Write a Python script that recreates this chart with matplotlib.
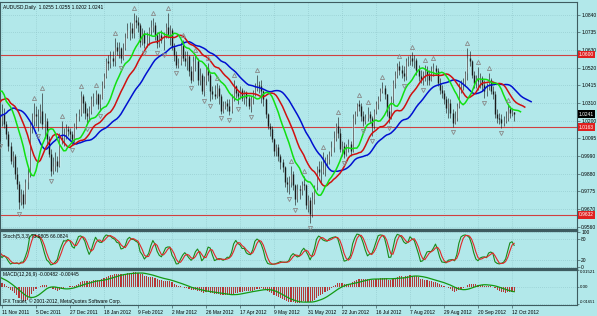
import numpy as np
import pandas as pd
import matplotlib
matplotlib.use("Agg")
import matplotlib.pyplot as plt
import matplotlib.transforms as mtransforms

# ---------------- data (prices in 1e-4 units) ----------------
# warm-up bars 1 Sep 2011 - 10 Nov 2011 (left of the visible window)
pre_open = 10740
pre_close = [10690, 10640, 10560, 10520, 10610, 10560, 10370, 10250, 10290, 10270,
             10340, 10300, 10200, 10220, 10040, 9780, 9750, 9830, 9930, 9760,
             9850, 9740,
             9560, 9700, 9720, 9800, 9790, 9920, 9890, 10060, 10090, 10200,
             10100, 10160, 10110, 10070, 10230, 10380, 10400, 10450, 10690, 10680,
             10520, 10250, 10340, 10440, 10400, 10350, 10420, 10150, 10200]
pre_high = [10760, 10720, 10640, 10600, 10640, 10640, 10580, 10380, 10330, 10320,
            10370, 10380, 10310, 10280, 10240, 10060, 9880, 9900, 9990, 9960,
            9890, 9860,
            9800, 9720, 9780, 9850, 9880, 9950, 9960, 10080, 10140, 10240,
            10270, 10190, 10200, 10140, 10260, 10400, 10440, 10490, 10710, 10760,
            10700, 10530, 10360, 10470, 10480, 10410, 10450, 10430, 10240]
pre_low = [10640, 10600, 10520, 10460, 10500, 10530, 10350, 10200, 10210, 10200,
           10250, 10280, 10180, 10160, 10020, 9760, 9690, 9700, 9810, 9730,
           9720, 9700,
           9500, 9390, 9620, 9700, 9730, 9790, 9850, 9880, 10000, 10060,
           10080, 10000, 10070, 9980, 10050, 10220, 10330, 10330, 10440, 10640,
           10500, 10230, 10200, 10230, 10370, 10300, 10310, 10120, 10080]

# visible bars 11 Nov 2011 - 15 Oct 2012
close = [10240, 10180, 10120, 10050, 9960, 9990, 9880, 9820, 9710, 9760,
         9700, 9830, 9880, 10180, 10200, 10240, 10230, 10230, 10260, 10180,
         10200, 10090, 10000, 9900, 9930, 9960, 9930, 10100, 10090, 10120,
         10150, 10140, 10120, 10090, 10170, 10230, 10240, 10350, 10310, 10250,
         10230, 10260, 10330, 10340, 10360, 10300, 10340, 10420, 10470, 10560,
         10550, 10580, 10560, 10650, 10620, 10640, 10580, 10640, 10710, 10750,
         10760, 10730, 10810, 10800, 10780, 10680, 10730, 10670, 10710, 10750,
         10770, 10780, 10720, 10670, 10720, 10690, 10720, 10770, 10720, 10750,
         10650, 10600, 10540, 10550, 10660, 10580, 10560, 10590, 10500, 10450,
         10560, 10560, 10450, 10480, 10380, 10440, 10520, 10480, 10380, 10360,
         10350, 10400, 10350, 10260, 10290, 10310, 10290, 10260, 10340, 10410,
         10370, 10350, 10390, 10340, 10370, 10340, 10290, 10330, 10370, 10400,
         10420, 10410, 10380, 10330, 10240, 10170, 10150, 10090, 10020, 10040,
         9990, 9950, 9920, 9830, 9820, 9830, 9880, 9810, 9730, 9790,
         9780, 9820, 9810, 9690, 9720, 9640, 9730, 9800, 9910, 9890,
         9890, 9920, 9950, 9970, 10000, 10040, 10100, 10170, 10130, 10030,
         10050, 10000, 10030, 10060, 10020, 10220, 10240, 10300, 10290, 10230,
         10200, 10220, 10240, 10220, 10170, 10260, 10300, 10330, 10380, 10400,
         10360, 10260, 10220, 10330, 10430, 10480, 10530, 10510, 10490, 10470,
         10560, 10570, 10580, 10560, 10570, 10510, 10470, 10450, 10470, 10510,
         10480, 10450, 10490, 10520, 10500, 10430, 10390, 10370, 10330, 10280,
         10310, 10250, 10190, 10220, 10290, 10410, 10420, 10430, 10490, 10580,
         10560, 10480, 10430, 10450, 10440, 10460, 10420, 10380, 10400, 10450,
         10380, 10360, 10240, 10220, 10210, 10190, 10200, 10220, 10270, 10250,
         10255, 10241]
high = [10300, 10280, 10200, 10140, 10070, 10020, 10000, 9920, 9840, 9790,
        9780, 9850, 9920, 10200, 10250, 10310, 10290, 10270, 10300, 10370,
        10250, 10220, 10110, 10030, 9980, 10010, 9990, 10130, 10200, 10160,
        10180, 10170, 10160, 10140, 10190, 10250, 10270, 10380, 10360, 10320,
        10280, 10290, 10350, 10370, 10385, 10370, 10360, 10440, 10490, 10580,
        10600, 10620, 10620, 10700, 10680, 10680, 10650, 10670, 10730, 10790,
        10800, 10790, 10850, 10840, 10830, 10790, 10760, 10750, 10740, 10770,
        10810, 10820, 10800, 10740, 10740, 10750, 10740, 10790, 10855, 10780,
        10760, 10670, 10620, 10580, 10680, 10690, 10620, 10620, 10600, 10530,
        10590, 10600, 10580, 10520, 10490, 10470, 10540, 10550, 10490, 10410,
        10420, 10430, 10420, 10360, 10320, 10320, 10330, 10330, 10360, 10445,
        10420, 10390, 10410, 10400, 10390, 10380, 10350, 10350, 10390, 10430,
        10475, 10440, 10450, 10390, 10340, 10250, 10190, 10170, 10100, 10060,
        10060, 10000, 9970, 9930, 9860, 9870, 9930, 9900, 9820, 9820,
        9810, 9840, 9870, 9820, 9750, 9740, 9770, 9810, 9930, 9960,
        9960, 10010, 9980, 10000, 10020, 10080, 10140, 10190, 10225, 10160,
        10080, 10070, 10060, 10090, 10080, 10240, 10260, 10310, 10325, 10310,
        10260, 10240, 10285, 10260, 10230, 10270, 10320, 10350, 10400, 10435,
        10420, 10340, 10290, 10350, 10450, 10500, 10550, 10560, 10540, 10530,
        10580, 10590, 10600, 10615, 10600, 10580, 10540, 10510, 10500, 10540,
        10530, 10510, 10530, 10550, 10540, 10520, 10460, 10420, 10390, 10350,
        10340, 10330, 10270, 10260, 10310, 10430, 10450, 10460, 10500, 10640,
        10620, 10570, 10500, 10480, 10525, 10490, 10470, 10450, 10430, 10490,
        10460, 10410, 10380, 10270, 10250, 10240, 10230, 10260, 10295, 10290,
        10280, 10255]
low = [10170, 10160, 10090, 10020, 9940, 9920, 9850, 9790, 9670, 9690,
       9675, 9700, 9790, 9860, 10130, 10170, 10170, 10140, 10190, 10150,
       10100, 10060, 9980, 9870, 9880, 9900, 9890, 9920, 10060, 10050,
       10090, 10110, 10080, 10055, 10070, 10150, 10200, 10230, 10250, 10210,
       10180, 10200, 10240, 10290, 10300, 10270, 10260, 10330, 10400, 10460,
       10510, 10520, 10530, 10530, 10600, 10580, 10550, 10570, 10630, 10700,
       10690, 10700, 10700, 10760, 10740, 10650, 10660, 10640, 10650, 10660,
       10720, 10740, 10690, 10640, 10650, 10670, 10630, 10700, 10700, 10660,
       10630, 10560, 10520, 10520, 10540, 10560, 10530, 10510, 10470, 10430,
       10440, 10500, 10420, 10420, 10360, 10350, 10420, 10440, 10320, 10330,
       10330, 10340, 10300, 10245, 10250, 10270, 10260, 10235, 10250, 10320,
       10340, 10305, 10330, 10320, 10300, 10290, 10270, 10255, 10300, 10350,
       10380, 10370, 10310, 10290, 10220, 10150, 10110, 10070, 9990, 9990,
       9960, 9910, 9890, 9800, 9770, 9760, 9800, 9780, 9690, 9710,
       9730, 9750, 9780, 9670, 9650, 9581, 9620, 9700, 9780, 9870,
       9820, 9880, 9870, 9920, 9940, 9990, 10010, 10080, 10100, 10010,
       9990, 9975, 9990, 10010, 9990, 10010, 10180, 10230, 10260, 10200,
       10170, 10180, 10200, 10190, 10110, 10150, 10240, 10270, 10320, 10370,
       10330, 10230, 10190, 10210, 10310, 10400, 10460, 10480, 10460, 10440,
       10450, 10530, 10540, 10530, 10520, 10480, 10440, 10430, 10420, 10440,
       10420, 10420, 10440, 10470, 10480, 10410, 10360, 10340, 10300, 10250,
       10220, 10220, 10164, 10180, 10200, 10280, 10370, 10390, 10410, 10450,
       10530, 10460, 10400, 10400, 10390, 10400, 10380, 10340, 10350, 10390,
       10360, 10330, 10220, 10190, 10180, 10157, 10170, 10190, 10200, 10220,
       10230, 10202]

price_ticks = [1.0840, 1.0735, 1.0630, 1.0520, 1.0415, 1.0310, 1.0200,
               1.0095, 0.9990, 0.9880, 0.9775, 0.9670, 0.9560]
red_levels = [1.0600, 1.0163, 0.9632]
last_price = 1.0241
stoch_ticks = [100, 80, 20, 0]
macd_ticks = [0.01521, 0.0, -0.01651]
macd_tick_labels = ["0.01521", "0.00", "-0.01651"]
title_txt = "AUDUSD,Daily  1.0255 1.0255 1.0202 1.0241"
stoch_txt = "Stoch(5,3,3) 73.9805 66.0824"
macd_txt = "MACD(12,26,9) -0.00482 -0.00445"
copy_txt = "IFX Trader, \u00a9 2001-2012, MetaQuotes Software Corp."
first_date = "2011-09-01"

# ---------------- build series ----------------
C = np.array(pre_close + close, float) / 1e4
H = np.array(pre_high + high, float) / 1e4
L = np.array(pre_low + low, float) / 1e4
O = np.r_[pre_open / 1e4, C[:-1]]
H = np.maximum(H, np.maximum(O, C))
L = np.minimum(L, np.minimum(O, C))
npre = len(pre_close)
N = len(C)
x = np.arange(N) - npre
dates = pd.bdate_range(first_date, periods=N)


def smma(v, n):
    out = np.full(len(v), np.nan)
    out[n - 1] = v[:n].mean()
    for i in range(n, len(v)):
        out[i] = (out[i - 1] * (n - 1) + v[i]) / n
    return out


med = (H + L) / 2
jaw = smma(med, 13)
teeth = smma(med, 8)
lips = smma(med, 5)

sC, sH, sL = pd.Series(C), pd.Series(H), pd.Series(L)
hh = sH.rolling(5).max()
ll = sL.rolling(5).min()
k = 100 * (sC - ll).rolling(3).sum() / (hh - ll).rolling(3).sum()
d = k.rolling(3).mean()

macd = sC.ewm(span=12, adjust=False).mean() - sC.ewm(span=26, adjust=False).mean()
sig = macd.rolling(9).mean()

# fractals
up_fr, dn_fr = [], []
for i in range(2, N - 2):
    if H[i] > H[i - 1] and H[i] > H[i - 2] and H[i] >= H[i + 1] and H[i] >= H[i + 2]:
        up_fr.append(i)
    if L[i] < L[i - 1] and L[i] < L[i - 2] and L[i] <= L[i + 1] and L[i] <= L[i + 2]:
        dn_fr.append(i)
up_fr = np.array(up_fr)
dn_fr = np.array(dn_fr)

# ---------------- drawing ----------------
BG = "#B2E8EA"
GRID = "#8CC2C6"
SPINE = "#3E5C60"
FS = 3.5
plt.rcParams["font.family"] = ["Liberation Sans", "DejaVu Sans"]

fig = plt.figure(figsize=(5.97, 3.16), dpi=100, facecolor=BG)
W = 577 / 597
ax = fig.add_axes([0, 1 - 230 / 316, W, 228 / 316], facecolor=BG)
ax2 = fig.add_axes([0, 1 - 269 / 316, W, 38 / 316], facecolor=BG, sharex=ax)
ax3 = fig.add_axes([0, 1 - 305 / 316, W, 35 / 316], facecolor=BG, sharex=ax)

for a in (ax, ax2, ax3):
    for s in a.spines.values():
        s.set_color(SPINE)
        s.set_linewidth(0.8)
    a.yaxis.tick_right()
    a.grid(True, color=GRID, ls=(0, (1, 2)), lw=0.5)
    a.set_axisbelow(True)
    a.tick_params(axis="y", labelsize=FS, length=2, width=0.5, pad=1,
                  colors=SPINE, labelcolor="black")
ax.spines["bottom"].set_linewidth(1.6)
ax2.spines["top"].set_linewidth(1.6)
ax2.spines["bottom"].set_linewidth(1.6)
ax3.spines["top"].set_linewidth(1.6)

# candles
up = C >= O
ax.vlines(x[up], O[up], C[up], color="white", lw=1.0, zorder=2)
ax.vlines(x[~up], C[~up], O[~up], color="#101010", lw=1.0, zorder=2)
ax.vlines(x, L, H, color="#202020", lw=0.45, zorder=3)

# alligator
ax.plot(x + 8, jaw, color="#0010D0", lw=1.1, zorder=4)
ax.plot(x + 5, teeth, color="#D01010", lw=1.1, zorder=4)
ax.plot(x + 3, lips, color="#10E010", lw=1.1, zorder=4)

# fractals
ax.plot(x[up_fr], H[up_fr] + 0.0030, ls="none", marker="^", ms=3.0,
        mfc="none", mec="#8A8A8A", mew=0.6, zorder=5)
ax.plot(x[dn_fr], L[dn_fr] - 0.0030, ls="none", marker="v", ms=3.0,
        mfc="none", mec="#8A8A8A", mew=0.6, zorder=5)

for lv in red_levels:
    ax.axhline(lv, color="#D04040", lw=0.8, zorder=1.5)

ax.set_ylim(0.9541, 1.0919)
ax.set_yticks(price_ticks)
ax.set_yticklabels([f"{v:.4f}" for v in price_ticks])

trans = mtransforms.blended_transform_factory(ax.transAxes, ax.transData)
for lv in red_levels:
    ax.text(1.003, lv, f"{lv:.4f}", transform=trans, ha="left", va="center",
            fontsize=FS, color="white", zorder=10,
            bbox=dict(boxstyle="square,pad=0.25", fc="#E02020", ec="none"))
ax.text(1.003, last_price, f"{last_price:.4f}", transform=trans, ha="left",
        va="center", fontsize=FS, color="white", zorder=10,
        bbox=dict(boxstyle="square,pad=0.25", fc="black", ec="none"))
ax.text(0.005, 0.985, title_txt, transform=ax.transAxes, ha="left", va="top",
        fontsize=FS, color="black")

# stochastic
ax2.plot(x, k, color="#1A8A1A", lw=0.8)
ax2.plot(x, d, color="#E02828", lw=0.8)
ax2.set_ylim(-5, 103)
ax2.set_yticks(stoch_ticks)
ax2.set_yticklabels([str(v) for v in stoch_ticks])
ax2.text(0.005, 0.93, stoch_txt, transform=ax2.transAxes, ha="left", va="top",
         fontsize=FS, color="black")

# MACD
ax3.bar(x, macd, width=0.5, color="#B33838", lw=0)
ax3.plot(x, sig, color="#149A14", lw=0.9)
ax3.set_ylim(-0.01651 * 1.03, 0.01521 * 1.03)
ax3.set_yticks(macd_ticks)
ax3.set_yticklabels(macd_tick_labels)
ax3.tick_params(axis="y", labelsize=3.2, length=1.5, pad=0.6)
tl = ax3.get_yticklabels()
tl[0].set_va("top")
tl[2].set_va("bottom")
tl[2].set_fontsize(2.8)
ax3.text(0.005, 0.93, macd_txt, transform=ax3.transAxes, ha="left", va="top",
         fontsize=FS, color="black")
ax3.text(0.005, 0.04, copy_txt, transform=ax3.transAxes, ha="left",
         va="bottom", fontsize=FS, color="black")

# date axis
tick_idx = np.arange(0, N - npre, 16)
ax3.set_xticks(tick_idx)
ax3.set_xticklabels([f"{dates[i + npre].day} {dates[i + npre].strftime('%b %Y')}"
                     for i in tick_idx], ha="left")
ax3.tick_params(axis="x", labelsize=FS, length=2, width=0.5, pad=1.5,
                colors=SPINE, labelcolor="black")
for a in (ax, ax2):
    a.tick_params(axis="x", labelbottom=False, length=0)
ax.set_xlim(-2 / 2.125, 575 / 2.125)

fig.savefig("out.png", dpi=100, facecolor=BG)
